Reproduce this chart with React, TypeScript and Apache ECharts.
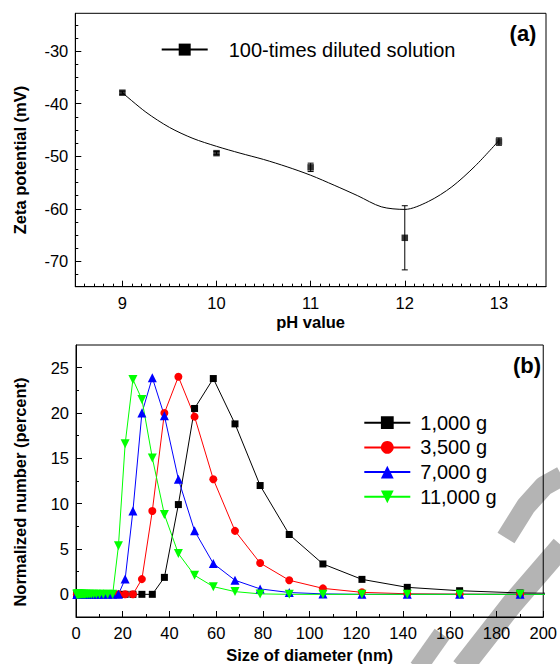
import React, { useEffect, useRef } from "react";
import * as echarts from "echarts";

// ---------- Panel (a) data ----------
const phValues = [9, 10, 11, 12, 13];
const zetaMeans = [-37.9, -49.4, -52.1, -65.5, -47.2];
const zetaErrors = [0.3, 0.3, 0.8, 6.1, 0.7];
const fitPh = [9, 9.25, 9.5, 9.75, 10, 10.25, 10.5, 10.75, 11, 11.25, 11.5, 11.75, 12, 12.25, 12.5, 12.75, 13];
const fitZeta = [-37.9, -41.6, -44.5, -46.6, -48.1, -49.4, -50.6, -52.0, -53.6, -55.5, -57.5, -59.6, -60.1, -58.6, -55.8, -51.8, -47.0];
const phTicks = [9, 10, 11, 12, 13];
const zetaTicks = [-70, -60, -50, -40, -30];
const zetaMinorTicks = [-72.5, -67.5, -65, -62.5, -57.5, -55, -52.5, -47.5, -45, -42.5, -37.5, -35, -32.5, -27.5, -25];
const zetaLegend = "100-times diluted solution";

// ---------- Panel (b) data ----------
const sizeBins = [
  0.4, 0.4632, 0.5365, 0.6213, 0.7195, 0.8332, 0.9649, 1.117, 1.294, 1.499, 1.736, 2.01, 2.328, 2.696,
  3.122, 3.615, 4.187, 4.849, 5.615, 6.503, 7.531, 8.721, 10.1, 11.7, 13.54, 15.69, 18.17, 21.04, 24.36,
  28.21, 32.67, 37.84, 43.82, 50.75, 58.77, 68.06, 78.82, 91.28, 105.7, 122.4, 141.8, 164.2, 190.1, 220.2,
];
const seriesNames = ["1,000 g", "3,500 g", "7,000 g", "11,000 g"];
const number1000 = [
  0, 0, 0, 0, 0, 0, 0, 0, 0, 0, 0, 0, 0, 0, 0, 0, 0, 0, 0, 0, 0, 0, 0, 0, 0, 0, 0, 0, 0, 0, 0,
  1.87, 9.9, 20.5, 23.8, 18.8, 12.0, 6.6, 3.35, 1.65, 0.77, 0.4, 0.15, 0.08,
];
const number3500 = [
  0, 0, 0, 0, 0, 0, 0, 0, 0, 0, 0, 0, 0, 0, 0, 0, 0, 0, 0, 0, 0, 0, 0, 0, 0, 0, 0, 0, 0,
  1.68, 9.2, 20.0, 24.0, 19.6, 12.7, 7.0, 3.45, 1.55, 0.66, 0.22, 0.06, 0.02, 0, 0,
];
const number7000 = [
  0, 0, 0, 0, 0, 0, 0, 0, 0, 0, 0, 0, 0, 0, 0, 0, 0, 0, 0, 0, 0, 0, 0, 0, 0, 0, 0,
  1.68, 9.2, 20.0, 23.9, 19.7, 12.7, 7.0, 3.4, 1.55, 0.6, 0.2, 0.05, 0, 0, 0, 0, 0,
];
const number11000 = [
  0, 0, 0, 0, 0, 0, 0, 0, 0, 0, 0, 0, 0, 0, 0, 0, 0, 0, 0, 0, 0, 0, 0, 0, 0, 0,
  5.35, 16.6, 23.7, 21.5, 15.05, 8.8, 4.5, 2.1, 0.85, 0.3, 0.05, 0, 0, 0, 0, 0, 0, 0,
];
const seriesValues = [number1000, number3500, number7000, number11000];
const seriesColors = ["#000000", "#ff0000", "#0000ff", "#00ff00"];
const seriesSymbols = ["rect", "circle", "triangle", "path://M0,0L10,0L5,10Z"];
const seriesSymbolSizes = [7, 8, 9, 9];
const percentTicks = [0, 5, 10, 15, 20, 25];
const percentMinorTicks = [2.5, 7.5, 12.5, 17.5, 22.5];

const FONT = '"Liberation Sans", Arial, Helvetica, sans-serif';

export default function App() {
  const ref = useRef<HTMLDivElement>(null);

  useEffect(() => {
    if (!ref.current) return;
    const chart = echarts.init(ref.current, null, { renderer: "svg" });

    const phMinorTicks: number[] = [];
    for (let i = 86; i <= 134; i++) if (i % 10 !== 0) phMinorTicks.push(i / 10);

    const line = { lineStyle: { color: "#000", width: 1 }, onZero: false };
    const labelStyle = { color: "#000", fontSize: 16.5, fontFamily: FONT };
    const nameStyle = { color: "#000", fontSize: 16.5, fontWeight: "bold", fontFamily: FONT };

    const g0 = { left: 75.3, top: 13.3, width: 470.7, height: 273.4 };
    const g1 = { left: 76, top: 345, width: 473, height: 272.7 };

    const markStyle = { stroke: "#b4b4b4", lineWidth: 20, lineCap: "butt", lineJoin: "round", fill: "none" };

    const option: any = {
      animation: false,
      grid: [
        { ...g0, show: true, borderColor: "#000", borderWidth: 1, containLabel: false },
        { ...g1, show: true, borderColor: "#000", borderWidth: 1, containLabel: false },
      ],
      xAxis: [
        {
          type: "value", gridIndex: 0, min: 8.5, max: 13.5, position: "bottom",
          axisLine: line,
          axisTick: { inside: true, length: 6, customValues: phTicks, lineStyle: { color: "#000" } },
          axisLabel: { ...labelStyle, customValues: phTicks, margin: 8 },
          splitLine: { show: false },
          name: "pH value", nameLocation: "middle", nameGap: 27, nameTextStyle: nameStyle,
        },
        {
          type: "value", gridIndex: 0, min: 8.5, max: 13.5, position: "bottom",
          axisLine: { show: false, onZero: false },
          axisTick: { inside: true, length: 3, customValues: phMinorTicks, lineStyle: { color: "#000" } },
          axisLabel: { show: false },
          splitLine: { show: false },
        },
        {
          type: "value", gridIndex: 1, min: 0, max: 200, interval: 20, position: "bottom",
          axisLine: line,
          axisTick: { inside: true, length: 6, lineStyle: { color: "#000" } },
          minorTick: { show: true, splitNumber: 2, length: 3, lineStyle: { color: "#000" } },
          axisLabel: { ...labelStyle, margin: 7 },
          splitLine: { show: false },
          name: "Size of diameter (nm)", nameLocation: "middle", nameGap: 29, nameTextStyle: nameStyle,
        },
      ],
      yAxis: [
        {
          type: "value", gridIndex: 0, min: -74.8, max: -22.8, position: "left",
          axisLine: line,
          axisTick: { inside: true, length: 6, customValues: zetaTicks, lineStyle: { color: "#000" } },
          axisLabel: { ...labelStyle, customValues: zetaTicks, margin: 7 },
          splitLine: { show: false },
        },
        {
          type: "value", gridIndex: 0, min: -74.8, max: -22.8, position: "left",
          axisLine: { show: false, onZero: false },
          axisTick: { inside: true, length: 3, customValues: zetaMinorTicks, lineStyle: { color: "#000" } },
          axisLabel: { show: false },
          splitLine: { show: false },
        },
        {
          type: "value", gridIndex: 1, min: -2.5, max: 27.5, position: "left",
          axisLine: line,
          axisTick: { inside: true, length: 6, customValues: percentTicks, lineStyle: { color: "#000" } },
          axisLabel: { ...labelStyle, customValues: percentTicks, margin: 7 },
          splitLine: { show: false },
        },
        {
          type: "value", gridIndex: 1, min: -2.5, max: 27.5, position: "left",
          axisLine: { show: false, onZero: false },
          axisTick: { inside: true, length: 3, customValues: percentMinorTicks, lineStyle: { color: "#000" } },
          axisLabel: { show: false },
          splitLine: { show: false },
        },
      ],
      legend: [
        {
          data: [zetaLegend], left: 160.7, top: 39.6, orient: "horizontal", padding: 0,
          itemWidth: 46, itemHeight: 15, selectedMode: false,
          textStyle: { color: "#000", fontSize: 20, fontFamily: FONT, padding: [0, 0, 0, 16] },
        },
        {
          data: seriesNames, left: 363.3, top: 412.7, orient: "vertical", padding: 0, itemGap: 4.7,
          itemWidth: 46, itemHeight: 16, selectedMode: false,
          textStyle: { color: "#000", fontSize: 20, fontFamily: FONT, padding: [0, 0, 0, 5] },
        },
      ],
      graphic: [
        { type: "polyline", z: -5, silent: true, shape: { points: [[506, 538], [526, 506], [544, 486], [562, 476]] }, style: markStyle },
        { type: "polyline", z: -5, silent: true, shape: { points: [[462, 668], [512, 604], [562, 546]] }, style: { ...markStyle, lineWidth: 22 } },
        { type: "polyline", z: -5, silent: true, shape: { points: [[418, 668], [442, 634]] }, style: { ...markStyle, lineWidth: 18 } },
        {
          type: "text", x: 20, y: 160, rotation: Math.PI / 2,
          style: { text: "Zeta potential (mV)", fill: "#000", fontSize: 16.5, fontWeight: "bold", fontFamily: FONT, align: "center", verticalAlign: "middle" },
        },
        {
          type: "text", x: 20, y: 492, rotation: Math.PI / 2,
          style: { text: "Normalized number (percent)", fill: "#000", fontSize: 16.5, fontWeight: "bold", fontFamily: FONT, align: "center", verticalAlign: "middle" },
        },
        {
          type: "text", x: 523, y: 33,
          style: { text: "(a)", fill: "#000", fontSize: 22, fontWeight: "bold", fontFamily: FONT, align: "center", verticalAlign: "middle" },
        },
        {
          type: "text", x: 527, y: 365,
          style: { text: "(b)", fill: "#000", fontSize: 22, fontWeight: "bold", fontFamily: FONT, align: "center", verticalAlign: "middle" },
        },
      ],
      series: [
        {
          type: "line", name: zetaLegend, xAxisIndex: 0, yAxisIndex: 0,
          data: fitPh.map((p, i) => [p, fitZeta[i]]),
          smooth: 0.3, symbol: "rect", showSymbol: false,
          lineStyle: { color: "#000", width: 1 }, itemStyle: { color: "#000" }, silent: true,
        },
        {
          type: "custom", name: "error", xAxisIndex: 0, yAxisIndex: 0,
          data: phValues.map((p, i) => [p, zetaMeans[i] - zetaErrors[i], zetaMeans[i] + zetaErrors[i]]),
          renderItem: (params: any, api: any) => {
            const x = api.value(0);
            const lo = api.coord([x, api.value(1)]);
            const hi = api.coord([x, api.value(2)]);
            const w = 3;
            const st = { stroke: "#000", lineWidth: 1 };
            return {
              type: "group",
              children: [
                { type: "line", shape: { x1: lo[0], y1: lo[1], x2: hi[0], y2: hi[1] }, style: st },
                { type: "line", shape: { x1: lo[0] - w, y1: lo[1], x2: lo[0] + w, y2: lo[1] }, style: st },
                { type: "line", shape: { x1: hi[0] - w, y1: hi[1], x2: hi[0] + w, y2: hi[1] }, style: st },
              ],
            };
          },
          silent: true,
        },
        {
          type: "scatter", name: "means", xAxisIndex: 0, yAxisIndex: 0,
          data: phValues.map((p, i) => [p, zetaMeans[i]]),
          symbol: "rect", symbolSize: 6.5, itemStyle: { color: "#000" }, silent: true, z: 3,
        },
        ...seriesNames.map((name, k) => ({
          type: "line", name, xAxisIndex: 2, yAxisIndex: 2,
          data: sizeBins.map((s, i) => [s, seriesValues[k][i]]),
          symbol: seriesSymbols[k], symbolSize: seriesSymbolSizes[k], showSymbol: true,
          lineStyle: { color: seriesColors[k], width: 1 },
          itemStyle: { color: seriesColors[k] },
          clip: true, silent: true,
        })),
      ],
    };

    chart.setOption(option);
    return () => chart.dispose();
  }, []);

  return (
    <div
      ref={ref}
      style={{ position: "fixed", left: 0, top: 0, width: 560, height: 664, background: "#fff" }}
    />
  );
}
